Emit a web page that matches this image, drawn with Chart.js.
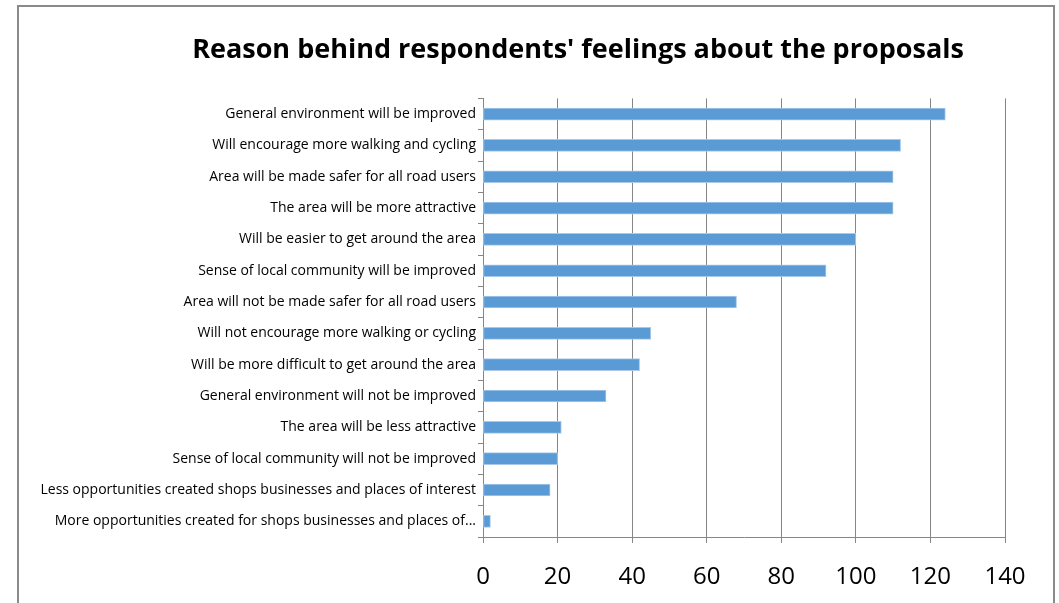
<!DOCTYPE html>
<html>
<head>
<meta charset="utf-8">
<script src="https://cdn.jsdelivr.net/npm/chart.js@4.4.0/dist/chart.umd.min.js"></script>
<style>
    html, body { margin: 0; padding: 0; background: #ffffff; }
    #wrap { position: relative; width: 1059px; height: 603px; }
</style>
</head>
<body>
<div id="wrap"><canvas id="reasonsChart" width="1059" height="603"></canvas></div>
<script>
// Categories (top to bottom) and counts
var reasonLabels = [
    "General environment will be improved",
    "Will encourage more walking and cycling",
    "Area will be made safer for all road users",
    "The area will be more attractive",
    "Will be easier to get around the area",
    "Sense of local community will be improved",
    "Area will not be made safer for all road users",
    "Will not encourage more walking or cycling",
    "Will be more difficult to get around the area",
    "General environment will not be improved",
    "The area will be less attractive",
    "Sense of local community will not be improved",
    "Less opportunities created shops businesses and places of interest",
    "More opportunities created for shops businesses and places of..."
];
var reasonCounts = [124, 112, 110, 110, 100, 92, 68, 45, 42, 33, 21, 20, 18, 2];
var axisMin = 0;
var axisMax = 140;
var axisStep = 20;

var chartCanvas = document.getElementById("reasonsChart");

// grey frame round the whole chart, like the spreadsheet export
var framePlugin = {
    id: "frame",
    beforeDraw: function (chart) {
        var ctx = chart.ctx;
        ctx.save();
        ctx.strokeStyle = "#8a8a8a";
        ctx.lineWidth = 2;
        ctx.strokeRect(18, 6, 1036, 700);
        ctx.restore();
    }
};

var reasonsChart = new Chart(chartCanvas, {
    type: "bar",
    data: {
        labels: reasonLabels,
        datasets: [
            {
                label: "Respondents",
                data: reasonCounts,
                backgroundColor: "#5b9bd5",
                borderColor: "#a9c9ea",
                borderWidth: 1,
                borderSkipped: false,
                barThickness: 12
            }
        ]
    },
    options: {
        indexAxis: "y",
        responsive: false,
        animation: false,
        layout: {
            // left padding pushes the title centre right, as in the original
            padding: { left: 151, right: 54, top: 0, bottom: 0 }
        },
        scales: {
            x: {
                min: axisMin,
                max: axisMax,
                ticks: {
                    stepSize: axisStep,
                    color: "#000000",
                    padding: 20,
                    font: { family: "'Open Sans', sans-serif", size: 24 }
                },
                grid: {
                    color: "#868686",
                    lineWidth: 1,
                    tickLength: 6,
                    drawTicks: true
                },
                border: { color: "#868686", width: 1 },
                afterFit: function (scale) {
                    scale.height = 66;
                }
            },
            y: {
                ticks: {
                    color: "#000000",
                    padding: 2,
                    autoSkip: false,
                    font: { family: "'Open Sans', sans-serif", size: 14 }
                },
                grid: {
                    offset: true,
                    drawOnChartArea: false,
                    drawTicks: true,
                    tickLength: 5,
                    color: "#868686"
                },
                border: { color: "#868686", width: 1 },
                afterFit: function (scale) {
                    scale.width = 332;
                    // long labels run past the axis box into the padding, so don't clip them
                    scale._computeLabelArea = function () { return undefined; };
                }
            }
        },
        plugins: {
            legend: { display: false },
            tooltip: { enabled: false },
            title: {
                display: true,
                text: "Reason behind respondents' feelings about the proposals",
                color: "#000000",
                font: { family: "'Open Sans', sans-serif", size: 27, weight: "bold" },
                padding: { top: 34, bottom: 32 }
            }
        }
    },
    plugins: [framePlugin]
});
</script>
</body>
</html>
